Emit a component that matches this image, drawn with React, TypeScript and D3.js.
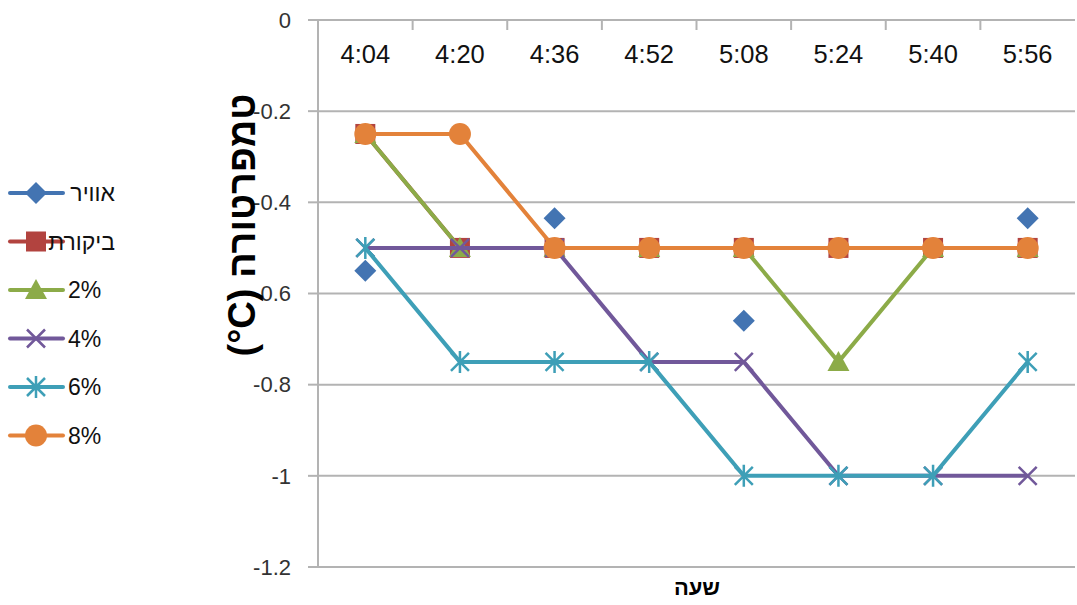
import * as d3 from "d3";

// categories (time of measurement)
const times = ["4:04", "4:20", "4:36", "4:52", "5:08", "5:24", "5:40", "5:56"];
const yTicks = [0, -0.2, -0.4, -0.6, -0.8, -1, -1.2];

// series values (null = no measurement)
const air = [-0.55, null, -0.435, null, -0.66, null, null, -0.435];
const control = [-0.25, -0.5, -0.5, -0.5, -0.5, -0.5, -0.5, -0.5];
const p2 = [-0.25, -0.5, -0.5, -0.5, -0.5, -0.75, -0.5, -0.5];
const p4 = [-0.5, -0.5, -0.5, -0.75, -0.75, -1, -1, -1];
const p6 = [-0.5, -0.75, -0.75, -0.75, -1, -1, -1, -0.75];
const p8 = [-0.25, -0.25, -0.5, -0.5, -0.5, -0.5, -0.5, -0.5];

const seriesNames = ["אוויר", "ביקורת", "2%", "4%", "6%", "8%"];
const seriesValues = [air, control, p2, p4, p6, p8];
const seriesColors = ["#4374b2", "#b2433f", "#8cab48", "#71589a", "#3e9fb7", "#e3823a"];
const seriesMarkers = ["diamond", "square", "triangle", "x", "star", "circle"];

const W = 1077, H = 605;
const left = 318, right = 1075, top = 20, bottom = 567;

function Marker({ kind, x, y, color }: { kind: string; x: number; y: number; color: string }) {
  if (kind === "diamond")
    return <path d={`M${x},${y - 11}L${x + 11},${y}L${x},${y + 11}L${x - 11},${y}Z`} fill={color} />;
  if (kind === "square")
    return <rect x={x - 10} y={y - 10} width={20} height={20} fill={color} />;
  if (kind === "triangle")
    return <path d={`M${x},${y - 11}L${x + 11},${y + 9}L${x - 11},${y + 9}Z`} fill={color} />;
  if (kind === "circle")
    return <circle cx={x} cy={y} r={11} fill={color} />;
  const s = 9;
  if (kind === "x")
    return (
      <path d={`M${x - s},${y - s}L${x + s},${y + s}M${x - s},${y + s}L${x + s},${y - s}`}
        stroke={color} strokeWidth={2.5} fill="none" />
    );
  return (
    <path d={`M${x - s},${y - s}L${x + s},${y + s}M${x - s},${y + s}L${x + s},${y - s}M${x},${y - s - 2}L${x},${y + s + 2}`}
      stroke={color} strokeWidth={2.5} fill="none" />
  );
}

export default function App() {
  const x = d3.scaleBand().domain(times).range([left, right]);
  const y = d3.scaleLinear().domain([-1.2, 0]).range([bottom, top]);
  const cx = (t: string) => (x(t) as number) + x.bandwidth() / 2;

  const line = d3
    .line<number | null>()
    .defined((d) => d !== null)
    .x((_, i) => cx(times[i]))
    .y((d) => y(d as number));

  const boundaries = times.map((t) => (x(t) as number) + x.bandwidth()).slice(0, -1);

  return (
    <svg width={W} height={H} style={{ display: "block", position: "absolute", left: 0, top: 0, background: "#fff" }}
      fontFamily="Liberation Sans, Arial, sans-serif">
      {/* grid lines */}
      {yTicks.map((t) => (
        <g key={t}>
          <line x1={left} x2={right} y1={y(t)} y2={y(t)} stroke="#b3b3b3" strokeWidth={2} />
          <line x1={left - 10} x2={left} y1={y(t)} y2={y(t)} stroke="#b3b3b3" strokeWidth={2} />
          <text x={291} y={y(t)} dy="0.35em" textAnchor="end" fontSize={22} fill="#333">
            {t === 0 ? "0" : t.toString()}
          </text>
        </g>
      ))}
      <line x1={left} x2={left} y1={top} y2={bottom} stroke="#b3b3b3" strokeWidth={2} />
      {boundaries.map((b, i) => (
        <line key={i} x1={b} x2={b} y1={top} y2={top + 10} stroke="#b3b3b3" strokeWidth={2} />
      ))}
      {times.map((t) => (
        <text key={t} x={cx(t)} y={63} textAnchor="middle" fontSize={25.5} fill="#111">
          {t}
        </text>
      ))}

      {/* series */}
      {seriesValues.map((vals, si) => (
        <g key={si}>
          {si > 0 && (
            <path d={line(vals) || ""} fill="none" stroke={seriesColors[si]} strokeWidth={4} strokeLinejoin="round" />
          )}
          {vals.map((v, i) =>
            v === null ? null : (
              <Marker key={i} kind={seriesMarkers[si]} x={cx(times[i])} y={y(v)} color={seriesColors[si]} />
            )
          )}
        </g>
      ))}

      {/* axis titles */}
      <text transform={`translate(255,225) rotate(-90)`} textAnchor="middle" direction="rtl"
        fontSize={38} fontWeight="bold" fill="#000">
        {"טמפרטורה (\u200E°C)"}
      </text>
      <text x={697} y={595} textAnchor="middle" fontSize={22} fontWeight="bold" fill="#000">
        שעה
      </text>

      {/* legend */}
      {seriesNames.map((n, i) => {
        const ly = 193 + i * 48.5;
        const heb = /[\u0590-\u05FF]/.test(n);
        return (
          <g key={n}>
            <line x1={10} x2={63} y1={ly} y2={ly} stroke={seriesColors[i]} strokeWidth={4} strokeLinecap="round" />
            <Marker kind={seriesMarkers[i]} x={36} y={ly} color={seriesColors[i]} />
            <text x={heb ? 115 : 68} y={ly} dy="0.35em" textAnchor={heb ? "end" : "start"} fontSize={23} fill="#111">
              {n}
            </text>
          </g>
        );
      })}
    </svg>
  );
}
